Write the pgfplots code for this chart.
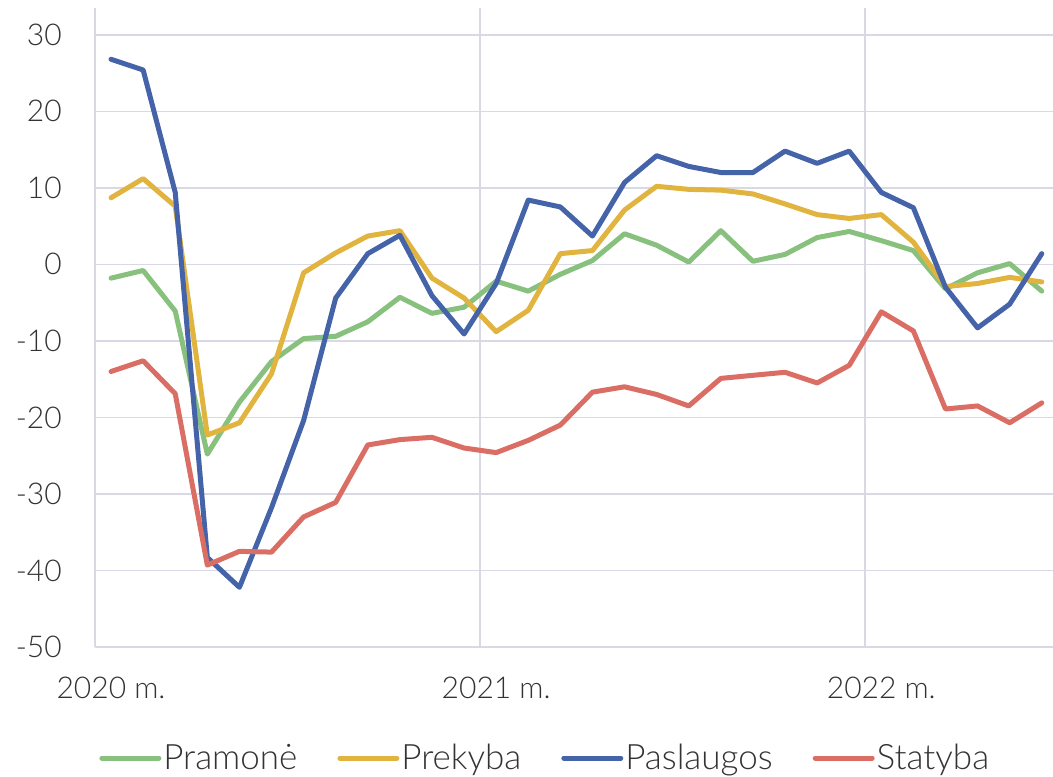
\documentclass[border=0pt]{standalone}
\usepackage{pgfplots}
\pgfplotsset{compat=1.18}
\usepackage{pgfplotstable}
\usepackage{fontspec}
\setmainfont{Lato}[UprightFont=* Light]
\definecolor{cgreen}{HTML}{88C17E}
\definecolor{cyellow}{HTML}{E0B43F}
\definecolor{cblue}{HTML}{4563A8}
\definecolor{cred}{HTML}{DB6E64}
\definecolor{cgrid}{HTML}{D9D9E6}
\pgfplotstableread{
m pram prek pasl stat
0 -1.8 8.7 26.8 -14.0
1 -0.8 11.2 25.4 -12.6
2 -6.1 7.6 9.4 -16.9
3 -24.8 -22.3 -38.3 -39.3
4 -18.0 -20.7 -42.2 -37.5
5 -12.7 -14.3 -31.8 -37.6
6 -9.7 -1.1 -20.4 -33.0
7 -9.4 1.5 -4.4 -31.1
8 -7.5 3.7 1.4 -23.6
9 -4.3 4.4 3.8 -22.9
10 -6.4 -1.8 -4.1 -22.6
11 -5.6 -4.4 -9.1 -24.0
12 -2.2 -8.8 -2.5 -24.6
13 -3.5 -6.0 8.4 -23.0
14 -1.3 1.4 7.5 -21.0
15 0.5 1.8 3.7 -16.7
16 4.0 7.1 10.7 -16.0
17 2.5 10.2 14.2 -17.0
18 0.3 9.8 12.8 -18.5
19 4.4 9.7 12.0 -14.9
20 0.4 9.2 12.0 -14.5
21 1.3 7.9 14.8 -14.1
22 3.5 6.5 13.2 -15.5
23 4.3 6.0 14.8 -13.2
24 3.1 6.5 9.4 -6.2
25 1.8 2.9 7.4 -8.7
26 -3.2 -2.9 -3.0 -18.9
27 -1.1 -2.5 -8.3 -18.5
28 0.1 -1.7 -5.2 -20.7
29 -3.5 -2.3 1.4 -18.1
}\datatable
\begin{document}
\begin{tikzpicture}
\useasboundingbox (0pt,0pt) rectangle (1053pt,777pt);
\begin{axis}[
  at={(95pt,130pt)}, anchor=south west,
  scale only axis, width=958pt, height=639pt,
  xmin=-0.5, xmax=29.35, ymin=-50, ymax=33.5,
  axis line style={draw=none},
  major tick length=0pt,
  ytick={-50,-40,...,30},
  yticklabels={-50,-40,-30,-20,-10,0,10,20,30},
  ymajorgrids,
  grid style={cgrid, line width=1.6pt},
  xtick={0,12,24},
  xticklabels={2020 m.,2021 m.,2022 m.},
  extra x ticks={-0.5,11.5,23.5},
  extra x tick labels={},
  extra x tick style={xmajorgrids, grid style={cgrid, line width=1.6pt}},
  every tick label/.append style={font=\fontsize{30}{36}\selectfont, text=black!80},
  yticklabel style={anchor=east, inner sep=0pt, xshift=-33pt},
  xticklabel style={anchor=north, inner sep=0pt, yshift=-30pt},
  legend columns=4,
  legend style={draw=none, fill=none, at={(axis description cs:0.47,0)}, anchor=center, yshift=-111pt,
    font=\fontsize{35}{40}\selectfont, text=black!80,
    nodes={inner sep=2pt},
    /tikz/every even column/.append style={column sep=38pt}},
  legend image code/.code={\draw[#1, line width=5pt] (0pt,0pt) -- (57pt,0pt);},
  every axis plot/.append style={line width=5pt, line join=round, line cap=round},
]
\addplot[cgreen] table[x=m, y=pram] {\datatable};
\addplot[cyellow] table[x=m, y=prek] {\datatable};
\addplot[cblue] table[x=m, y=pasl] {\datatable};
\addplot[cred] table[x=m, y=stat] {\datatable};
\legend{Pramonė, Prekyba, Paslaugos, Statyba}
\end{axis}
\end{tikzpicture}
\end{document}
